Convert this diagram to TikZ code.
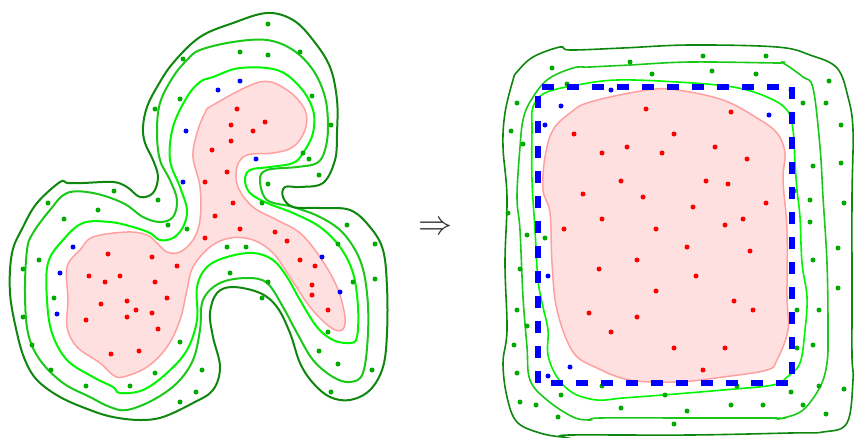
\documentclass[tikz,border=0pt]{standalone}
\begin{document}
\begin{tikzpicture}[x=1pt,y=-1pt,
  blobfill/.style={fill=pinkfill,draw=pinkedge,line width=1.5},
  contA/.style={draw=gOuter,line width=2},
  contB/.style={draw=gMid,line width=2},
  contC/.style={draw=gInner,line width=2},
  rdot/.style={fill=red},
  bdot/.style={fill=blue},
  gdot/.style={fill=gDot},
  boxdash/.style={draw=blue,line width=6,dash pattern=on 12 off 13,dash phase=-9}]
\definecolor{pinkfill}{RGB}{255,224,224}
\definecolor{pinkedge}{RGB}{255,160,160}
\definecolor{gOuter}{RGB}{15,135,15}
\definecolor{gMid}{RGB}{25,200,25}
\definecolor{gInner}{RGB}{0,245,0}
\definecolor{gDot}{RGB}{0,170,0}
\definecolor{arrgray}{RGB}{50,50,50}
\useasboundingbox (0,0) rectangle (855,440);
% ---------- left figure ----------
\filldraw[blobfill] plot[smooth cycle,tension=0.6] coordinates {
(213,105) (260,82) (287,90) (305,110) (305,130) (293,147) (273,153) (247,155) (237,167) (238,187) (253,207) (277,220) (300,233) (320,257) (337,287) (345,317) (342,330) (330,327) (310,307) (290,277) (273,253) (253,240) (230,238) (210,247) (193,267) (187,290) (180,320) (167,347) (147,367) (123,377) (113,375) (100,363) (77,347) (67,327) (68,300) (67,267) (80,250) (93,237) (127,232) (147,235) (157,243) (167,252) (180,252) (193,240) (200,220) (200,187) (193,157) (197,133) (205,113)};
\draw[contC] plot[smooth cycle,tension=0.6] coordinates {
(213,77) (240,68) (277,70) (300,87) (313,110) (313,133) (303,153) (293,163) (270,167) (250,170) (245,180) (250,193) (267,203) (293,213) (320,227) (340,247) (353,273) (358,307) (357,337) (350,343) (333,340) (317,327) (300,300) (287,277) (273,260) (253,253) (227,257) (207,267) (197,287) (197,320) (187,350) (167,373) (143,390) (120,393) (113,387) (93,377) (67,360) (52,333) (47,300) (48,263) (63,240) (83,223) (110,222) (133,227) (150,233) (160,240) (173,238) (183,227) (187,210) (180,187) (170,160) (173,127) (187,97) (200,82)};
\draw[contB] plot[smooth cycle,tension=0.6] coordinates {
(200,50) (233,42) (267,40) (293,50) (313,70) (325,97) (328,127) (325,150) (317,163) (297,167) (267,170) (260,180) (267,200) (293,207) (320,217) (343,233) (360,260) (367,293) (368,333) (363,373) (350,382) (333,377) (313,360) (297,333) (283,307) (267,283) (247,278) (220,283) (203,300) (200,330) (193,360) (177,383) (153,400) (127,410) (110,407) (90,397) (63,383) (40,360) (28,333) (25,293) (27,250) (33,233) (50,210) (67,193) (93,193) (123,203) (143,217) (160,222) (173,217) (177,200) (170,180) (160,160) (157,133) (160,103) (173,77) (187,60)};
\draw[contA] plot[smooth cycle,tension=0.6] coordinates {
(173,63) (200,37) (233,23) (267,13) (293,20) (313,40) (330,67) (337,100) (337,133) (335,160) (323,183) (300,187) (285,187) (283,197) (293,207) (320,208) (350,210) (370,227) (383,250) (387,287) (387,333) (383,367) (370,390) (350,400) (330,397) (313,383) (300,363) (290,333) (277,307) (260,293) (233,287) (217,293) (210,313) (213,337) (220,367) (213,390) (193,403) (163,417) (140,420) (113,417) (90,410) (60,397) (37,380) (25,360) (17,333) (10,293) (12,253) (23,227) (37,203) (60,182) (67,183) (83,183) (113,182) (127,187) (140,197) (153,193) (158,177) (153,160) (145,143) (143,127) (147,107) (157,87)};
\foreach \p in {(237,109),(265,122),(231,125),(253,131),(231,141),(212,150),(227,172),(205,182),(233,203),(215,216),(240,229),(275,232),(205,238),(287,241),(300,260),(315,266),(312,285),(312,295),(328,310),(108,254),(152,257),(177,266),(89,276),(120,276),(105,282),(155,282),(167,298),(127,301),(101,304),(136,310),(152,313),(127,317),(86,320),(158,329),(139,351),(111,354)}
  \fill[rdot] \p circle (2.5);
\foreach \p in {(240,81),(218,90),(186,131),(256,159),(183,182),(73,247),(60,273),(57,314),(322,257),(340,292)}
  \fill[bdot] \p circle (2.5);
\foreach \p in {(268,24),(183,59),(240,52),(268,55),(300,52),(155,109),(180,99),(312,96),(331,125),(303,153),(309,159),(319,175),(268,184),(262,203),(114,191),(158,200),(48,203),(98,210),(64,219),(168,225),(187,229),(227,247),(246,247),(347,225),(375,244),(338,244),(39,260),(23,269),(230,273),(268,282),(353,282),(375,279),(262,298),(54,298),(23,317),(180,342),(328,332),(319,351),(338,364),(372,370),(32,345),(51,370),(155,373),(202,370),(86,386),(130,386),(180,402),(196,392),(331,392)}
  \fill[gdot] \p circle (2.5);
% ---------- arrow ----------
\node[text=arrgray,scale=3.4,inner sep=0] (arr) at (435,228) {$\Rightarrow$};
% ---------- right figure ----------
\filldraw[blobfill] plot[smooth cycle,tension=0.6] coordinates {
(590,102) (647,90) (677,90) (723,100) (757,118) (777,133) (785,153) (783,180) (787,230) (787,297) (788,330) (777,360) (767,370) (723,377) (677,382) (630,380) (597,368) (573,352) (557,310) (552,263) (550,213) (543,190) (545,157) (553,130) (570,113)};
\draw[contC,line width=1.6] plot[smooth cycle,tension=0.6] coordinates {
(545,93) (577,85) (617,80) (677,82) (733,87) (767,97) (787,110) (793,130) (795,163) (797,190) (800,217) (802,263) (807,297) (805,330) (800,363) (787,377) (773,385) (723,390) (663,395) (623,398) (597,400) (573,393) (557,377) (548,355) (548,330) (543,307) (538,280) (535,230) (532,180) (532,130) (533,107)};
\draw[contB,line width=1.6] plot[smooth cycle,tension=0.6] coordinates {
(530,102) (547,80) (573,68) (590,67) (630,65) (690,62) (777,63) (783,63) (803,77) (813,88) (820,147) (823,197) (827,263) (828,330) (827,363) (820,387) (803,410) (783,418) (773,418) (690,418) (600,418) (590,420) (573,417) (547,400) (530,380) (527,347) (523,297) (520,230) (517,197) (520,147) (523,120)};
\draw[contA,line width=1.6] plot[smooth cycle,tension=0.6] coordinates {
(517,72) (533,57) (560,47) (570,50) (623,48) (690,45) (777,47) (810,55) (837,68) (848,97) (853,130) (852,197) (852,297) (852,357) (853,380) (847,423) (823,432) (790,433) (690,435) (570,435) (563,437) (540,433) (517,422) (507,397) (503,363) (507,330) (505,263) (507,197) (503,147) (505,113) (513,80)};
\foreach \p in {(646,109),(731,112),(574,134),(674,134),(602,153),(627,147),(662,153),(715,147),(747,159),(621,181),(706,181),(728,184),(583,194),(643,197),(693,207),(766,203),(602,219),(743,219),(564,229),(656,229),(725,225),(687,247),(750,251),(637,260),(599,269),(696,276),(656,291),(734,301),(753,310),(589,313),(637,317),(611,332),(674,348),(725,348),(703,370)}
  \fill[rdot] \p circle (2.5);
\foreach \p in {(630,62),(703,56),(766,56),(552,68),(652,74),(712,71),(756,74),(567,84),(829,81),(517,103),(803,103),(826,103),(511,131),(523,144),(841,125),(813,166),(841,163),(794,191),(810,200),(844,203),(508,213),(810,222),(527,235),(545,238),(838,248),(813,260),(520,269),(838,288),(797,310),(819,310),(517,310),(527,326),(514,345),(813,345),(797,348),(517,373),(602,386),(737,386),(819,386),(844,389),(791,392),(561,395),(665,395),(520,402),(536,405),(621,408),(687,411),(731,405),(763,405),(803,405),(558,417),(826,414),(674,424)}
  \fill[gdot] \p circle (2.5);
\draw[boxdash] (538,87) rectangle (792,383);
\foreach \p in {(611,90),(791,90),(561,106),(769,115),(545,125),(548,276),(570,367),(548,376)}
  \fill[bdot] \p circle (2.5);
\end{tikzpicture}
\end{document}
